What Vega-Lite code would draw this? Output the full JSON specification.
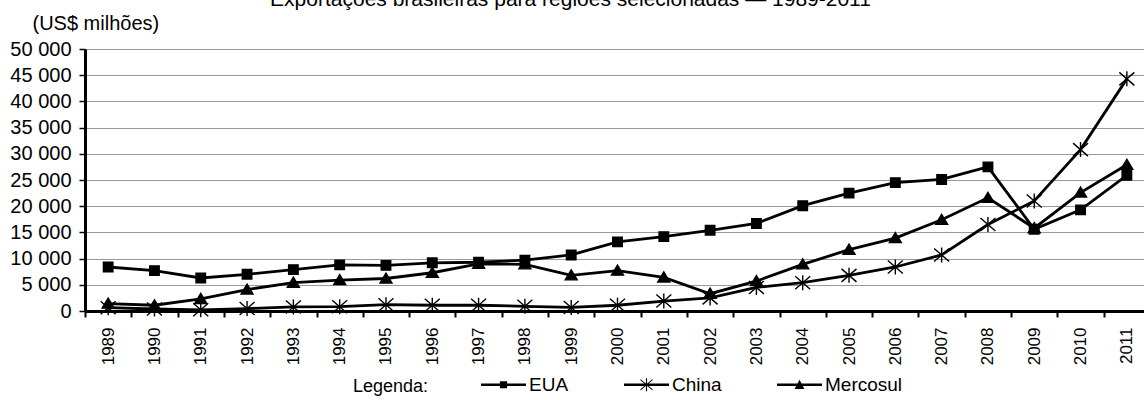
{
  "$schema": "https://vega.github.io/schema/vega-lite/v6.json",
  "width": 1059,
  "height": 262,
  "autosize": {"type": "none"},
  "padding": {"left": 85, "top": 49, "right": 0, "bottom": 89},
  "background": "white",
  "title": {
    "text": "Exportações brasileiras para regiões selecionadas — 1989-2011",
    "font": "Liberation Sans",
    "fontSize": 21,
    "fontWeight": "normal",
    "color": "black",
    "anchor": "middle",
    "dx": -44,
    "offset": 3
  },
  "config": {
    "view": {"stroke": null},
    "font": "Liberation Sans"
  },
  "data": {
    "values": [
      {"year": "1989", "serie": "EUA", "value": 8400},
      {"year": "1990", "serie": "EUA", "value": 7700},
      {"year": "1991", "serie": "EUA", "value": 6300},
      {"year": "1992", "serie": "EUA", "value": 7000},
      {"year": "1993", "serie": "EUA", "value": 7900},
      {"year": "1994", "serie": "EUA", "value": 8800},
      {"year": "1995", "serie": "EUA", "value": 8700},
      {"year": "1996", "serie": "EUA", "value": 9200},
      {"year": "1997", "serie": "EUA", "value": 9300},
      {"year": "1998", "serie": "EUA", "value": 9700},
      {"year": "1999", "serie": "EUA", "value": 10700},
      {"year": "2000", "serie": "EUA", "value": 13200},
      {"year": "2001", "serie": "EUA", "value": 14200},
      {"year": "2002", "serie": "EUA", "value": 15400},
      {"year": "2003", "serie": "EUA", "value": 16700},
      {"year": "2004", "serie": "EUA", "value": 20100},
      {"year": "2005", "serie": "EUA", "value": 22500},
      {"year": "2006", "serie": "EUA", "value": 24500},
      {"year": "2007", "serie": "EUA", "value": 25100},
      {"year": "2008", "serie": "EUA", "value": 27500},
      {"year": "2009", "serie": "EUA", "value": 15600},
      {"year": "2010", "serie": "EUA", "value": 19300},
      {"year": "2011", "serie": "EUA", "value": 25900},
      {"year": "1989", "serie": "China", "value": 630},
      {"year": "1990", "serie": "China", "value": 380},
      {"year": "1991", "serie": "China", "value": 230},
      {"year": "1992", "serie": "China", "value": 460},
      {"year": "1993", "serie": "China", "value": 780},
      {"year": "1994", "serie": "China", "value": 820},
      {"year": "1995", "serie": "China", "value": 1200},
      {"year": "1996", "serie": "China", "value": 1100},
      {"year": "1997", "serie": "China", "value": 1100},
      {"year": "1998", "serie": "China", "value": 900},
      {"year": "1999", "serie": "China", "value": 680},
      {"year": "2000", "serie": "China", "value": 1100},
      {"year": "2001", "serie": "China", "value": 1900},
      {"year": "2002", "serie": "China", "value": 2500},
      {"year": "2003", "serie": "China", "value": 4500},
      {"year": "2004", "serie": "China", "value": 5400},
      {"year": "2005", "serie": "China", "value": 6800},
      {"year": "2006", "serie": "China", "value": 8400},
      {"year": "2007", "serie": "China", "value": 10700},
      {"year": "2008", "serie": "China", "value": 16500},
      {"year": "2009", "serie": "China", "value": 21000},
      {"year": "2010", "serie": "China", "value": 30800},
      {"year": "2011", "serie": "China", "value": 44300},
      {"year": "1989", "serie": "Mercosul", "value": 1400},
      {"year": "1990", "serie": "Mercosul", "value": 1100},
      {"year": "1991", "serie": "Mercosul", "value": 2300},
      {"year": "1992", "serie": "Mercosul", "value": 4100},
      {"year": "1993", "serie": "Mercosul", "value": 5400},
      {"year": "1994", "serie": "Mercosul", "value": 5900},
      {"year": "1995", "serie": "Mercosul", "value": 6200},
      {"year": "1996", "serie": "Mercosul", "value": 7300},
      {"year": "1997", "serie": "Mercosul", "value": 9000},
      {"year": "1998", "serie": "Mercosul", "value": 8900},
      {"year": "1999", "serie": "Mercosul", "value": 6800},
      {"year": "2000", "serie": "Mercosul", "value": 7700},
      {"year": "2001", "serie": "Mercosul", "value": 6400},
      {"year": "2002", "serie": "Mercosul", "value": 3300},
      {"year": "2003", "serie": "Mercosul", "value": 5700},
      {"year": "2004", "serie": "Mercosul", "value": 8900},
      {"year": "2005", "serie": "Mercosul", "value": 11700},
      {"year": "2006", "serie": "Mercosul", "value": 13900},
      {"year": "2007", "serie": "Mercosul", "value": 17400},
      {"year": "2008", "serie": "Mercosul", "value": 21600},
      {"year": "2009", "serie": "Mercosul", "value": 15800},
      {"year": "2010", "serie": "Mercosul", "value": 22600},
      {"year": "2011", "serie": "Mercosul", "value": 27900}
    ]
  },
  "encoding": {
    "x": {
      "field": "year",
      "type": "ordinal",
      "scale": {"type": "band", "paddingInner": 0, "paddingOuter": 0, "range": [0, 1065]},
      "axis": {
        "title": null,
        "grid": false,
        "domainColor": "black",
        "domainWidth": 3,
        "tickColor": "black",
        "tickWidth": 2,
        "tickSize": 6,
        "tickBand": "extent",
        "labelAngle": 270,
        "labelAlign": "right",
        "labelBaseline": "middle",
        "labelPadding": 10,
        "labelFontSize": 17,
        "labelColor": "black",
        "labelFont": "Liberation Sans"
      }
    },
    "y": {
      "field": "value",
      "type": "quantitative",
      "scale": {"domain": [0, 50000], "nice": false, "zero": true},
      "axis": {
        "title": "(US$ milhões)",
        "titleAngle": 0,
        "titleAlign": "left",
        "titleBaseline": "alphabetic",
        "titleX": -53,
        "titleY": -20,
        "titleFontSize": 20,
        "titleFontWeight": "normal",
        "titleColor": "black",
        "titleFont": "Liberation Sans",
        "values": [0, 5000, 10000, 15000, 20000, 25000, 30000, 35000, 40000, 45000, 50000],
        "labelExpr": "replace(format(datum.value, ','), ',', ' ')",
        "labelFontSize": 20,
        "labelColor": "black",
        "labelFont": "Liberation Sans",
        "labelPadding": 8,
        "domainColor": "black",
        "domainWidth": 3,
        "tickColor": "black",
        "tickWidth": 1.5,
        "tickSize": 6,
        "grid": true,
        "gridColor": "#999999",
        "gridWidth": 1
      }
    }
  },
  "layer": [
    {
      "mark": {"type": "line", "stroke": "black", "strokeWidth": 2.8},
      "encoding": {"detail": {"field": "serie", "type": "nominal"}}
    },
    {
      "mark": {"type": "point", "filled": true, "fill": "black", "stroke": "black", "strokeWidth": 1.4, "opacity": 1, "size": 100},
      "encoding": {
        "shape": {
          "field": "serie",
          "type": "nominal",
          "scale": {
            "domain": ["EUA", "China", "Mercosul"],
            "range": [
              "M-0.95,-0.95L0.95,-0.95L0.95,0.95L-0.95,0.95Z",
              "M-1.5,-1.3L1.5,1.3M-1.5,1.3L1.5,-1.3M0,-1.5L0,1.5",
              "M-1.2,0.9L0,-1.1L1.2,0.9Z"
            ]
          },
          "legend": null
        }
      }
    },
    {
      "transform": [{"filter": "datum.value < 0"}],
      "mark": {"type": "point", "filled": true, "fill": "black", "opacity": 1},
      "encoding": {
        "shape": {
          "field": "serie",
          "type": "nominal",
          "scale": {
            "domain": ["EUA", "China", "Mercosul"],
            "range": [
              "M-1,-0.06L1,-0.06L1,0.06L-1,0.06ZM-0.16,-0.16L0.16,-0.16L0.16,0.16L-0.16,0.16Z",
              "M-1,-0.06L1,-0.06L1,0.06L-1,0.06ZM-0.27,-0.26L0.27,0.2L0.27,0.26L-0.27,-0.2ZM-0.27,0.2L0.27,-0.26L0.27,-0.2L-0.27,0.26ZM-0.025,-0.29L0.025,-0.29L0.025,0.29L-0.025,0.29Z",
              "M-1,-0.06L1,-0.06L1,0.06L-1,0.06ZM-0.22,0.19L0,-0.22L0.22,0.19Z"
            ]
          },
          "legend": {
            "title": "Legenda:",
            "orient": "none",
            "legendX": 268,
            "legendY": 313,
            "direction": "horizontal",
            "titleOrient": "left",
            "titleAnchor": "middle",
            "titleFontSize": 18,
            "titleFontWeight": "normal",
            "titleColor": "black",
            "titleFont": "Liberation Sans",
            "titleBaseline": "top",
            "titlePadding": 52,
            "labelFontSize": 19,
            "labelColor": "black",
            "labelFont": "Liberation Sans",
            "labelOffset": 3,
            "columnPadding": 55,
            "symbolSize": 2025,
            "symbolFillColor": "black",
            "symbolStrokeWidth": 0,
            "symbolOpacity": 1
          }
        }
      }
    }
  ],
  "resolve": {"scale": {"shape": "independent"}, "legend": {"shape": "independent"}}
}
